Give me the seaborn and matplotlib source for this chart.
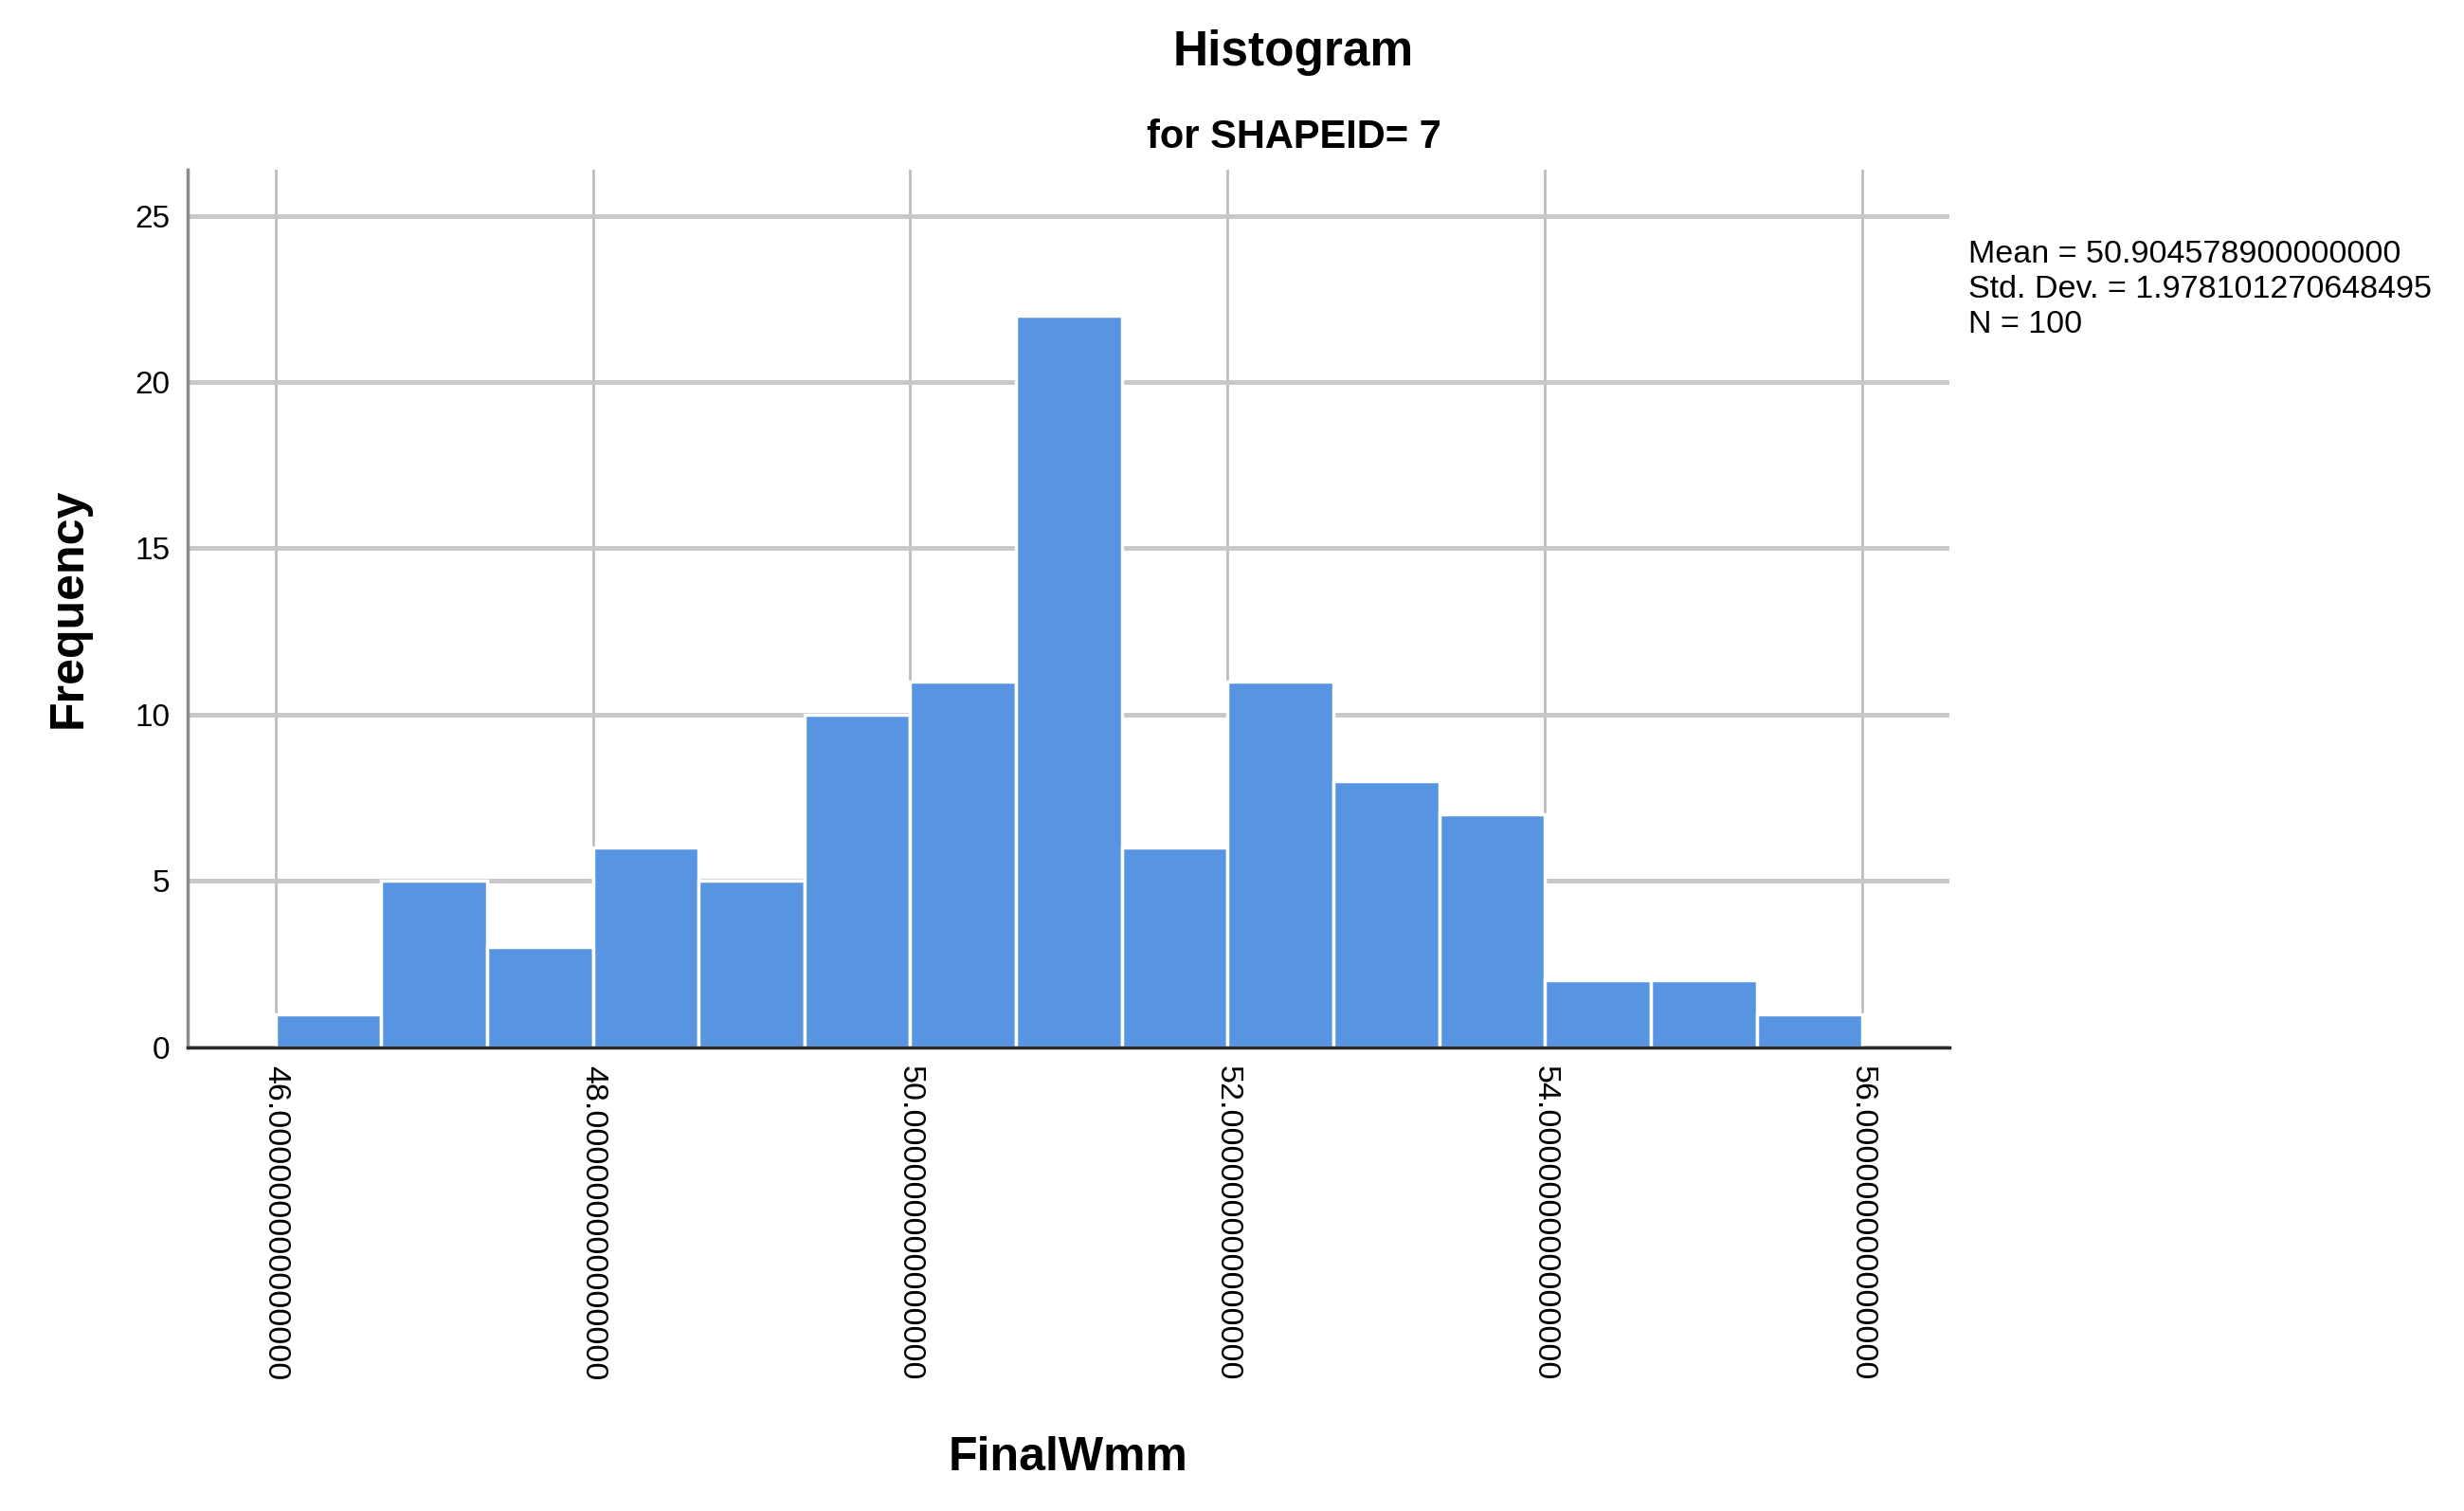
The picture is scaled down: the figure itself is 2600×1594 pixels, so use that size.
import matplotlib
matplotlib.use("Agg")
import matplotlib.pyplot as plt
import numpy as np
import pandas as pd
import seaborn as sns

# bin centres (FinalWmm) and counts
bin_centers = [46.333, 47.0, 47.667, 48.333, 49.0, 49.667, 50.333, 51.0,
               51.667, 52.333, 53.0, 53.667, 54.333, 55.0, 55.667]
counts = [1, 5, 3, 6, 5, 10, 11, 22, 6, 11, 8, 7, 2, 2, 1]
x_ticks = [46, 48, 50, 52, 54, 56]
y_ticks = [0, 5, 10, 15, 20, 25]
stats_text = ("Mean = 50.904578900000000\n"
              "Std. Dev. = 1.978101270648495\n"
              "N = 100")

df = pd.DataFrame({"FinalWmm": bin_centers, "count": counts})

sns.set_style("white")
plt.rcParams['font.family'] = ['Liberation Sans', 'DejaVu Sans']
plt.rcParams['text.color'] = 'black'
plt.rcParams['axes.labelcolor'] = 'black'
plt.rcParams['xtick.color'] = 'black'
plt.rcParams['ytick.color'] = 'black'

fig = plt.figure(figsize=(26, 15.94), dpi=100)
ax = fig.add_axes([0.076, 0.307, 0.715, 0.581])

# grid first so the bars sit on top
ax.set_axisbelow(True)
ax.yaxis.grid(True, color="#c8c8c8", linewidth=3.5)
ax.xaxis.grid(True, color="#bdbdbd", linewidth=2.0)

sns.histplot(data=df, x="FinalWmm", weights="count", bins=15, binrange=(46, 56),
             color="#5795e2", alpha=1.0, edgecolor="white", linewidth=2.5, ax=ax)

ax.set_xlim(45.445, 56.545)
ax.set_ylim(0, 26.4)
ax.set_xticks(x_ticks)
ax.set_xticklabels([f"{t:.15f}" for t in x_ticks], rotation=-90, fontsize=24.5)
ax.set_yticks(y_ticks)
ax.set_yticklabels([str(t) for t in y_ticks], fontsize=24)
ax.tick_params(axis="x", length=0, pad=14)
ax.tick_params(axis="y", length=0, pad=13)

for side in ["top", "right"]:
    ax.spines[side].set_visible(False)
ax.spines["left"].set_color("#8c8c8c")
ax.spines["left"].set_linewidth(2.5)
ax.spines["bottom"].set_color("#2a2a2a")
ax.spines["bottom"].set_linewidth(2.5)

ax.set_xlabel("FinalWmm", fontsize=36, fontweight="bold")
ax.set_ylabel("Frequency", fontsize=36, fontweight="bold")
ax.xaxis.set_label_coords(0.5, -0.443)
ax.yaxis.set_label_coords(-0.055, 0.5)

fig.text(0.525, 0.965, "Histogram", ha="center", va="center",
         fontsize=37, fontweight="bold")
fig.text(0.525, 0.909, "for SHAPEID= 7", ha="center", va="center",
         fontsize=30, fontweight="bold")
fig.text(0.799, 0.841, stats_text, ha="left", va="top", fontsize=24.5,
         linespacing=1.25)

fig.savefig("out.png", dpi=100)
